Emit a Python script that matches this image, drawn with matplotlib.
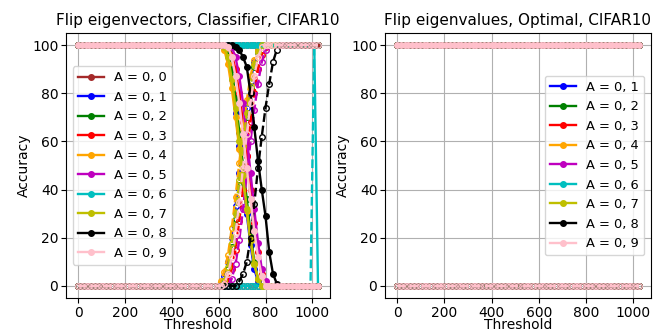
import matplotlib
matplotlib.use("Agg")
import matplotlib.pyplot as plt
import numpy as np

# thresholds 0..1024, step 16
thresholds = np.arange(0, 1025, 16)
labels = ['A = 0, %d' % k for k in range(10)]
colors = ['brown', 'b', 'g', 'r', 'orange', 'm', 'c', 'y', 'k', 'pink']

# left panel: values from threshold 592 on (earlier points sit on the plateau),
# padded with the last value up to 1024
start = 592
flip_solid = [
    [100],                                                                          # 0,0
    [100, 100, 99, 96, 86, 72, 58, 44, 30, 17, 7, 2, 0],                             # 0,1
    [100, 100, 100, 97, 90, 78, 64, 50, 36, 22, 10, 3, 0],                           # 0,2
    [100, 100, 100, 99, 96, 90, 80, 68, 54, 40, 26, 14, 5, 1, 0],                    # 0,3
    [100, 100, 98, 92, 82, 70, 57, 44, 31, 19, 9, 3, 0],                             # 0,4
    [100, 100, 100, 100, 99, 95, 87, 76, 62, 47, 32, 18, 7, 2, 0],                   # 0,5
    [100] * 27 + [0],                                                                # 0,6
    [100, 100, 99, 95, 86, 74, 60, 46, 32, 19, 9, 3, 0],                             # 0,7
    [100, 100, 100, 100, 100, 99, 98, 95, 91, 80, 66, 52, 40, 29, 14, 5, 1, 0],      # 0,8
    [100, 100, 100, 99, 95, 87, 76, 63, 49, 36, 23, 12, 4, 0],                       # 0,9
]
flip_dashed = [
    [0],                                                                             # 0,0
    [0, 1, 4, 10, 20, 33, 47, 61, 74, 85, 93, 98, 100],                              # 0,1
    [0, 0, 2, 7, 16, 28, 42, 56, 70, 82, 91, 97, 100],                               # 0,2
    [0, 0, 0, 2, 7, 15, 27, 40, 54, 68, 80, 90, 96, 99, 100],                        # 0,3
    [0, 2, 6, 13, 24, 37, 51, 65, 77, 87, 94, 98, 100],                              # 0,4
    [0, 0, 0, 0, 3, 9, 19, 32, 46, 60, 73, 84, 93, 98, 100],                         # 0,5
    [0] * 26 + [100, 100],                                                           # 0,6
    [0, 0, 2, 8, 18, 30, 44, 58, 72, 83, 92, 97, 100],                               # 0,7
    [0, 0, 0, 0, 0, 0, 2, 5, 10, 20, 34, 49, 62, 74, 84, 93, 98, 100],               # 0,8
    [0, 0, 1, 5, 12, 22, 35, 49, 63, 76, 87, 95, 99, 100],                           # 0,9
]

# right panel: flat lines
opt_solid = [100] * 9
opt_dashed = [0] * 9


def full_series(head, tail):
    n_head = int(np.sum(thresholds < start))
    vals = [head] * n_head + list(tail)
    vals += [tail[-1]] * (len(thresholds) - len(vals))
    return vals


fig = plt.figure(figsize=(6.64, 3.32), dpi=100)
ax1 = fig.add_axes([0.0994, 0.1024, 0.3976, 0.7982])
ax2 = fig.add_axes([0.5798, 0.1024, 0.4006, 0.7982])

ms = 4
lw = 1.7
for k in range(10):
    ax1.plot(thresholds, full_series(100, flip_solid[k]), marker='o', color=colors[k],
             markersize=ms, linewidth=lw, label=labels[k])
    ax1.plot(thresholds, full_series(0, flip_dashed[k]), marker='o', color=colors[k],
             markersize=ms, linewidth=lw, linestyle='--', markerfacecolor='none')

for k in range(1, 10):
    ax2.plot(thresholds, [opt_solid[k - 1]] * len(thresholds), marker='o', color=colors[k],
             markersize=ms, linewidth=lw, label=labels[k])
    ax2.plot(thresholds, [opt_dashed[k - 1]] * len(thresholds), marker='o', color=colors[k],
             markersize=ms, linewidth=lw, linestyle='--', markerfacecolor='none')

ax1.set_title('Flip eigenvectors, Classifier, CIFAR10', fontsize=11)
ax2.set_title('Flip eigenvalues, Optimal, CIFAR10', fontsize=11)
for ax, loc in ((ax1, 'center left'), (ax2, 'center right')):
    ax.set_xlabel('Threshold', fontsize=10, labelpad=-1)
    ax.set_ylabel('Accuracy', fontsize=10, labelpad=1)
    ax.tick_params(labelsize=10, pad=2)
    ax.set_xticks([0, 200, 400, 600, 800, 1000])
    ax.set_yticks([0, 20, 40, 60, 80, 100])
    ax.grid(True)
    ax.legend(loc=loc, fontsize=9.4)

plt.savefig('out.png', dpi=100)
